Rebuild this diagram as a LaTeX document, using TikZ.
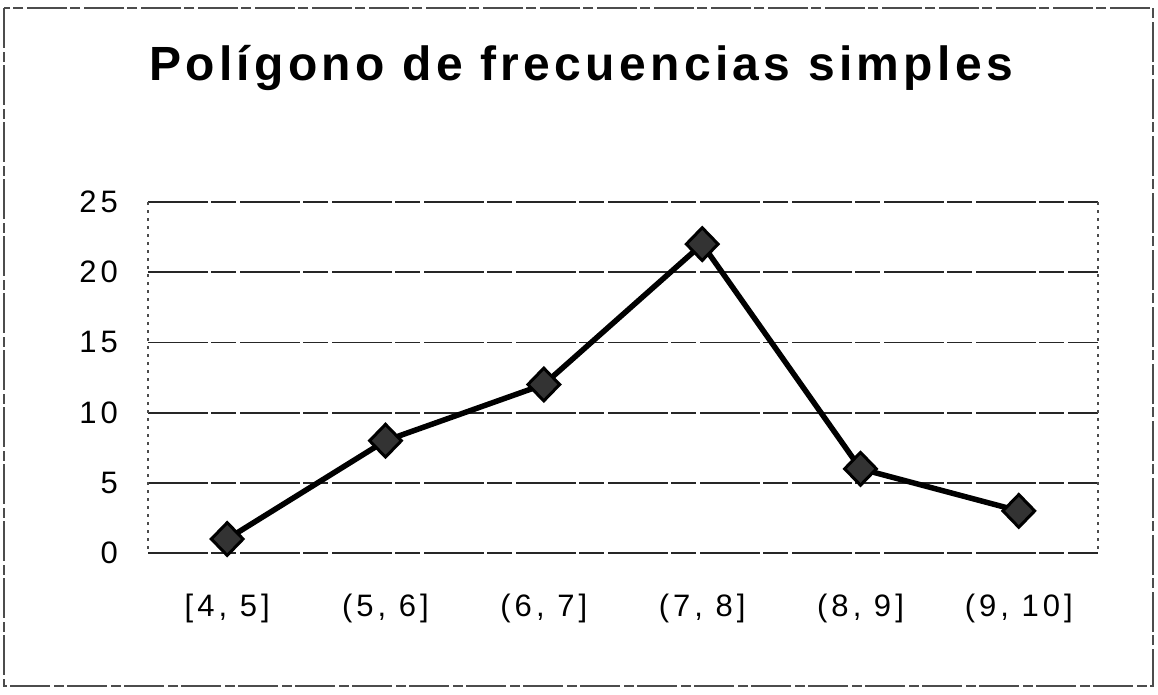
\documentclass[tikz,border=0pt]{standalone}
\usepackage{fontspec}
\setmainfont{Liberation Sans}
\newfontfamily\titlefont{Liberation Sans}[LetterSpace=9]
\newfontfamily\labfont{Liberation Sans}[LetterSpace=13]
\usetikzlibrary{shapes.geometric}
\tikzset{
  frame/.style={draw=black!70, line width=1.2pt, dash pattern=on 40pt off 4pt on 10pt off 3pt},
  grid/.style={draw=black!85, line width=1.8pt, dash pattern=on 60pt off 3pt on 25pt off 4pt},
  side/.style={draw=black!70, line width=1.2pt, dash pattern=on 3pt off 5pt},
  poly/.style={draw=black, line width=5.5pt, line join=round, line cap=round},
  mk/.style={shape=diamond, draw=black, line width=3pt, fill=black!80, minimum width=33pt, minimum height=34pt, inner sep=0pt},
  ylab/.style={font=\labfont\fontsize{31}{33}\selectfont, anchor=east, inner sep=0pt},
  xlab/.style={font=\labfont\fontsize{31}{33}\selectfont, anchor=base, inner sep=0pt},
  ttl/.style={font=\titlefont\bfseries\fontsize{48}{52}\selectfont, anchor=base, inner sep=0pt}
}
\begin{document}
\begin{tikzpicture}[x=1pt,y=-1pt]
\useasboundingbox (0,0) rectangle (1158,694);
% outer frame
\draw[frame] (4,8) rectangle (1153,686);
% title
\node[ttl] (title) at (581,80) {Polígono de frecuencias simples};
% grid lines
\foreach \v/\yy in {0/553,5/482.8,10/412.6,15/342.4,20/272.2,25/202}{
  \coordinate (gl\v) at (148,\yy);
  \coordinate (gr\v) at (1098,\yy);
  \draw[grid] (gl\v) -- (gr\v);
  \node[ylab] (y\v) at (118,\yy) {\v};
}
% plot area sides
\draw[side] (gl25) -- (gl0);
\draw[side] (gr25) -- (gr0);
% data points
\coordinate (c1) at (227.2,539);
\coordinate (c2) at (385.5,440.7);
\coordinate (c3) at (543.8,384.5);
\coordinate (c4) at (702.2,244.1);
\coordinate (c5) at (860.5,468.8);
\coordinate (c6) at (1018.8,510.9);
\draw[poly] (c1) -- (c2) -- (c3) -- (c4) -- (c5) -- (c6);
\node[mk] (m1) at (c1) {};
\node[mk] (m2) at (c2) {};
\node[mk] (m3) at (c3) {};
\node[mk] (m4) at (c4) {};
\node[mk] (m5) at (c5) {};
\node[mk] (m6) at (c6) {};
% category labels
\node[xlab] (x1) at (227.2,616) {[4, 5]};
\node[xlab] (x2) at (385.5,616) {(5, 6]};
\node[xlab] (x3) at (543.8,616) {(6, 7]};
\node[xlab] (x4) at (702.2,616) {(7, 8]};
\node[xlab] (x5) at (860.5,616) {(8, 9]};
\node[xlab] (x6) at (1018.8,616) {(9, 10]};
\end{tikzpicture}
\end{document}
